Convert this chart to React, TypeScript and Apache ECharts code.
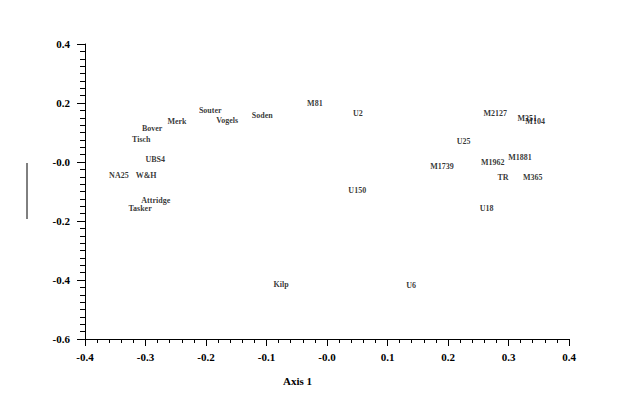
import React, { useEffect, useRef } from "react";
import * as echarts from "echarts";

const names = [
  "Souter", "Vogels", "Soden", "Merk", "Bover", "Tisch", "UBS4", "NA25", "W&H",
  "Attridge", "Tasker", "M81", "U2", "U150", "Kilp", "U6", "M2127", "M351", "M104",
  "U25", "M1739", "M1962", "M1881", "TR", "M365", "U18",
];
const axis1 = [
  -0.193, -0.165, -0.107, -0.248, -0.289, -0.307, -0.284, -0.344, -0.299,
  -0.283, -0.309, -0.02, 0.051, 0.05, -0.076, 0.139, 0.278, 0.331, 0.344,
  0.226, 0.19, 0.274, 0.319, 0.291, 0.34, 0.264,
];
const axis2 = [
  0.176, 0.139, 0.159, 0.136, 0.115, 0.075, 0.007, -0.047, -0.047,
  -0.132, -0.156, 0.197, 0.163, -0.098, -0.414, -0.417, 0.163, 0.146, 0.136,
  0.068, -0.014, 0.0, 0.014, -0.051, -0.051, -0.156,
];
const xTitle = "Axis 1";

const FONT = "'Liberation Serif', 'Times New Roman', serif";

const fmt = (v: number) => (Math.abs(v) < 1e-9 ? "-0.0" : v.toFixed(1));

export default function App() {
  const ref = useRef<HTMLDivElement>(null);
  useEffect(() => {
    if (!ref.current) return;
    const chart = echarts.init(ref.current, null, { renderer: "svg" });
    const data = names.map((n, i) => ({ name: n, value: [axis1[i], axis2[i]] }));
    const axisCommon = {
      axisLine: { show: true, onZero: false, lineStyle: { color: "#000", width: 1 } },
      axisTick: { show: true, inside: false, length: 7, lineStyle: { color: "#000" } },
      minorTick: { show: true, length: 4, lineStyle: { color: "#000" } },
      splitLine: { show: false },
      minorSplitLine: { show: false },
    };
    chart.setOption({
      animation: false,
      backgroundColor: "#fff",
      grid: { left: 85, right: 55, top: 44, bottom: 74, containLabel: false },
      xAxis: {
        type: "value",
        min: -0.4,
        max: 0.4,
        interval: 0.1,
        ...axisCommon,
        minorTick: { show: true, splitNumber: 5, length: 4, lineStyle: { color: "#000" } },
        axisLabel: {
          margin: 12,
          color: "#000",
          fontFamily: FONT,
          fontWeight: "bold",
          fontSize: 11,
          formatter: fmt,
        },
      },
      yAxis: {
        type: "value",
        min: -0.6,
        max: 0.4,
        interval: 0.2,
        ...axisCommon,
        axisTick: { show: true, inside: false, length: 8, lineStyle: { color: "#000" } },
        minorTick: { show: true, splitNumber: 8, length: 5, lineStyle: { color: "#000" } },
        axisLabel: {
          margin: 15,
          color: "#000",
          fontFamily: FONT,
          fontWeight: "bold",
          fontSize: 11,
          formatter: fmt,
        },
      },
      series: [
        {
          type: "scatter",
          data,
          symbolSize: 1,
          itemStyle: { color: "rgba(0,0,0,0)" },
          label: {
            show: true,
            position: "inside",
            formatter: (p: any) => p.name,
            color: "#000",
            fontFamily: FONT,
            fontWeight: "bold",
            fontSize: 8,
          },
          emphasis: { disabled: true },
        },
      ],
      graphic: [
        {
          type: "text",
          left: 283,
          top: 375,
          style: {
            text: xTitle,
            fill: "#000",
            font: `bold 11px ${FONT}`,
          },
        },
        {
          type: "line",
          shape: { x1: 27, y1: 163, x2: 27, y2: 219 },
          style: { stroke: "#000", lineWidth: 1 },
        },
      ],
    });
    return () => chart.dispose();
  }, []);
  return (
    <div
      ref={ref}
      style={{ position: "fixed", left: 0, top: 0, width: 624, height: 413, background: "#fff" }}
    />
  );
}
